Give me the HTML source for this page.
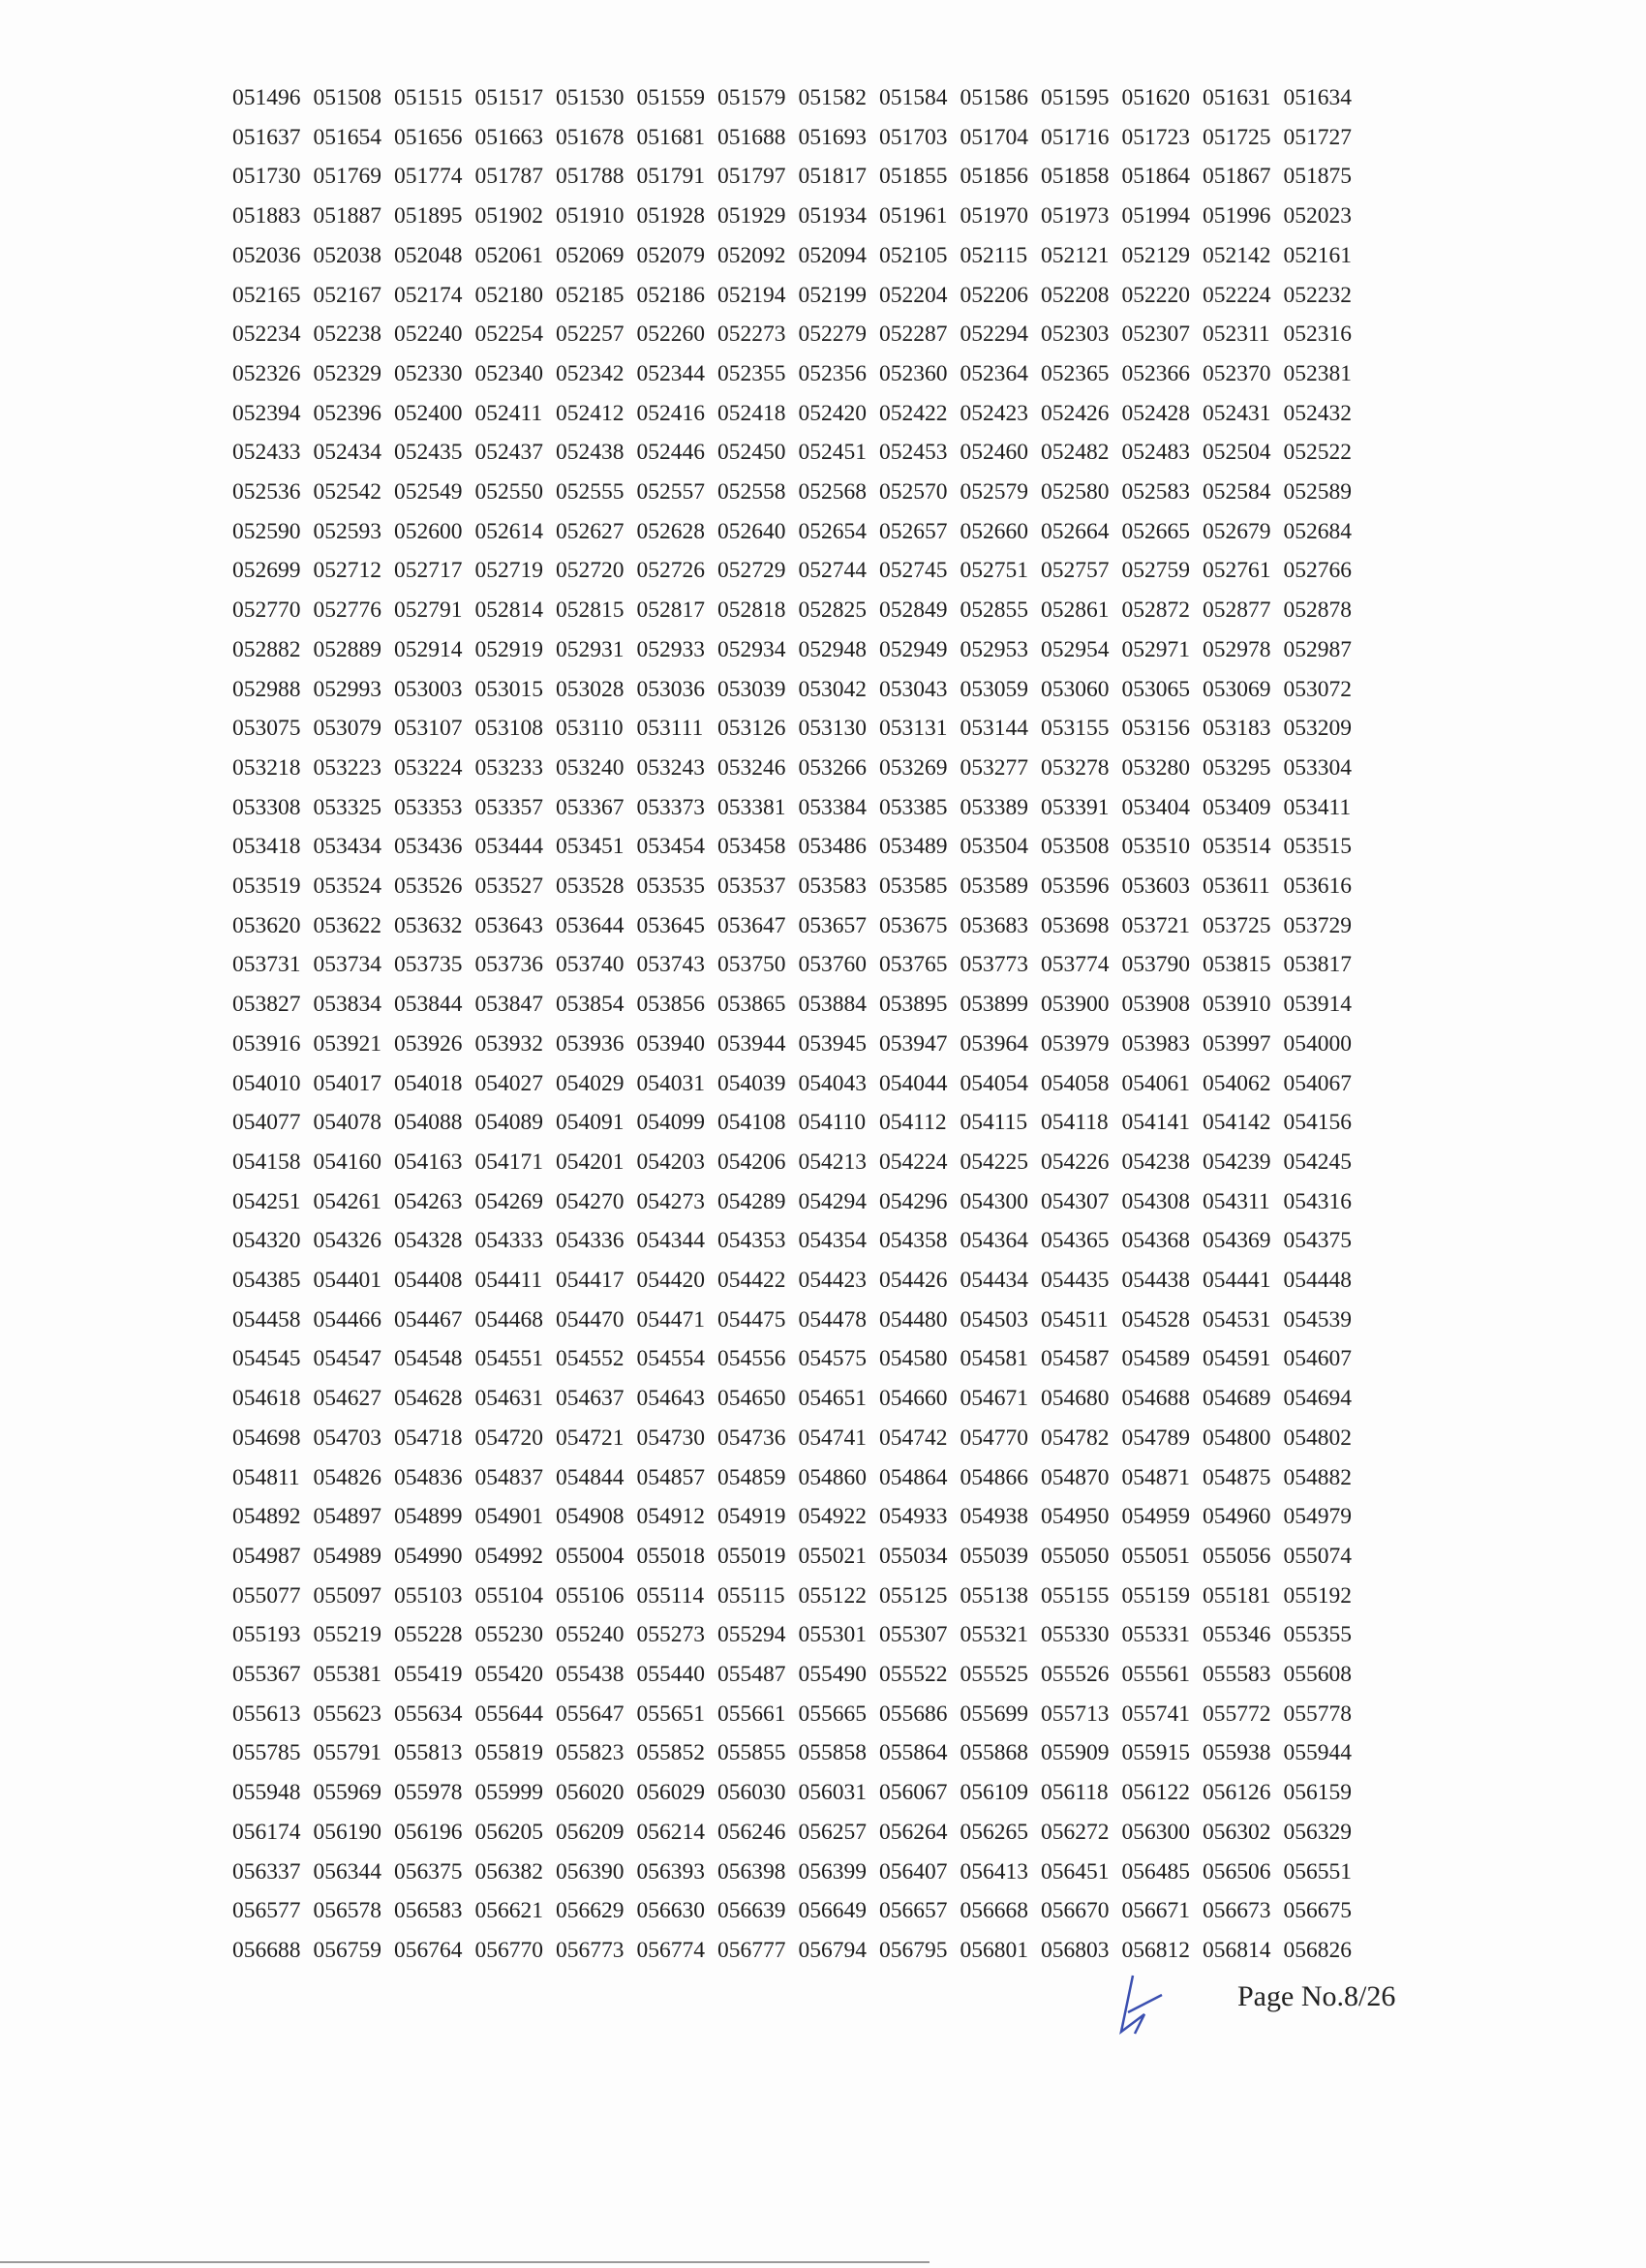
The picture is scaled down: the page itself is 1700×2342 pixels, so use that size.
<!DOCTYPE html>
<html><head><meta charset="utf-8"><style>
html,body{margin:0;padding:0;background:#fff;}
#page{position:relative;width:1700px;height:2342px;overflow:hidden;background:#fdfdfd;font-family:"Liberation Serif",serif;color:#1e1e1e;}
.n{position:absolute;font-size:23.5px;line-height:24px;white-space:nowrap;}
#pg{position:absolute;left:1278px;top:2045px;font-size:30px;color:#222;}
</style></head><body>
<div id="page">
<div id="pg">Page No.8/26</div>
<svg width="1700" height="2342" style="position:absolute;left:0;top:0">
<path d="M1170 2040 L1158 2098 L1182 2080 L1172 2100 M1165 2078 L1200 2060" stroke="#3a4fb0" stroke-width="2.5" fill="none"/>
<line x1="0" y1="2336" x2="960" y2="2336" stroke="#999" stroke-width="2"/>
</svg>
</div>
<script>
const rows = [
"051496 051508 051515 051517 051530 051559 051579 051582 051584 051586 051595 051620 051631 051634",
"051637 051654 051656 051663 051678 051681 051688 051693 051703 051704 051716 051723 051725 051727",
"051730 051769 051774 051787 051788 051791 051797 051817 051855 051856 051858 051864 051867 051875",
"051883 051887 051895 051902 051910 051928 051929 051934 051961 051970 051973 051994 051996 052023",
"052036 052038 052048 052061 052069 052079 052092 052094 052105 052115 052121 052129 052142 052161",
"052165 052167 052174 052180 052185 052186 052194 052199 052204 052206 052208 052220 052224 052232",
"052234 052238 052240 052254 052257 052260 052273 052279 052287 052294 052303 052307 052311 052316",
"052326 052329 052330 052340 052342 052344 052355 052356 052360 052364 052365 052366 052370 052381",
"052394 052396 052400 052411 052412 052416 052418 052420 052422 052423 052426 052428 052431 052432",
"052433 052434 052435 052437 052438 052446 052450 052451 052453 052460 052482 052483 052504 052522",
"052536 052542 052549 052550 052555 052557 052558 052568 052570 052579 052580 052583 052584 052589",
"052590 052593 052600 052614 052627 052628 052640 052654 052657 052660 052664 052665 052679 052684",
"052699 052712 052717 052719 052720 052726 052729 052744 052745 052751 052757 052759 052761 052766",
"052770 052776 052791 052814 052815 052817 052818 052825 052849 052855 052861 052872 052877 052878",
"052882 052889 052914 052919 052931 052933 052934 052948 052949 052953 052954 052971 052978 052987",
"052988 052993 053003 053015 053028 053036 053039 053042 053043 053059 053060 053065 053069 053072",
"053075 053079 053107 053108 053110 053111 053126 053130 053131 053144 053155 053156 053183 053209",
"053218 053223 053224 053233 053240 053243 053246 053266 053269 053277 053278 053280 053295 053304",
"053308 053325 053353 053357 053367 053373 053381 053384 053385 053389 053391 053404 053409 053411",
"053418 053434 053436 053444 053451 053454 053458 053486 053489 053504 053508 053510 053514 053515",
"053519 053524 053526 053527 053528 053535 053537 053583 053585 053589 053596 053603 053611 053616",
"053620 053622 053632 053643 053644 053645 053647 053657 053675 053683 053698 053721 053725 053729",
"053731 053734 053735 053736 053740 053743 053750 053760 053765 053773 053774 053790 053815 053817",
"053827 053834 053844 053847 053854 053856 053865 053884 053895 053899 053900 053908 053910 053914",
"053916 053921 053926 053932 053936 053940 053944 053945 053947 053964 053979 053983 053997 054000",
"054010 054017 054018 054027 054029 054031 054039 054043 054044 054054 054058 054061 054062 054067",
"054077 054078 054088 054089 054091 054099 054108 054110 054112 054115 054118 054141 054142 054156",
"054158 054160 054163 054171 054201 054203 054206 054213 054224 054225 054226 054238 054239 054245",
"054251 054261 054263 054269 054270 054273 054289 054294 054296 054300 054307 054308 054311 054316",
"054320 054326 054328 054333 054336 054344 054353 054354 054358 054364 054365 054368 054369 054375",
"054385 054401 054408 054411 054417 054420 054422 054423 054426 054434 054435 054438 054441 054448",
"054458 054466 054467 054468 054470 054471 054475 054478 054480 054503 054511 054528 054531 054539",
"054545 054547 054548 054551 054552 054554 054556 054575 054580 054581 054587 054589 054591 054607",
"054618 054627 054628 054631 054637 054643 054650 054651 054660 054671 054680 054688 054689 054694",
"054698 054703 054718 054720 054721 054730 054736 054741 054742 054770 054782 054789 054800 054802",
"054811 054826 054836 054837 054844 054857 054859 054860 054864 054866 054870 054871 054875 054882",
"054892 054897 054899 054901 054908 054912 054919 054922 054933 054938 054950 054959 054960 054979",
"054987 054989 054990 054992 055004 055018 055019 055021 055034 055039 055050 055051 055056 055074",
"055077 055097 055103 055104 055106 055114 055115 055122 055125 055138 055155 055159 055181 055192",
"055193 055219 055228 055230 055240 055273 055294 055301 055307 055321 055330 055331 055346 055355",
"055367 055381 055419 055420 055438 055440 055487 055490 055522 055525 055526 055561 055583 055608",
"055613 055623 055634 055644 055647 055651 055661 055665 055686 055699 055713 055741 055772 055778",
"055785 055791 055813 055819 055823 055852 055855 055858 055864 055868 055909 055915 055938 055944",
"055948 055969 055978 055999 056020 056029 056030 056031 056067 056109 056118 056122 056126 056159",
"056174 056190 056196 056205 056209 056214 056246 056257 056264 056265 056272 056300 056302 056329",
"056337 056344 056375 056382 056390 056393 056398 056399 056407 056413 056451 056485 056506 056551",
"056577 056578 056583 056621 056629 056630 056639 056649 056657 056668 056670 056671 056673 056675",
"056688 056759 056764 056770 056773 056774 056777 056794 056795 056801 056803 056812 056814 056826"
];
const page = document.getElementById('page');
rows.forEach((r, ri) => {
  r.split(' ').forEach((v, ci) => {
    const d = document.createElement('div');
    d.className = 'n';
    
    
    d.style.left = (240 + ci * 83.5) + 'px';
    d.style.top = (89 + ri * 40.7) + 'px';
    d.textContent = v;
    page.appendChild(d);
  });
});
</script>
</body></html>
